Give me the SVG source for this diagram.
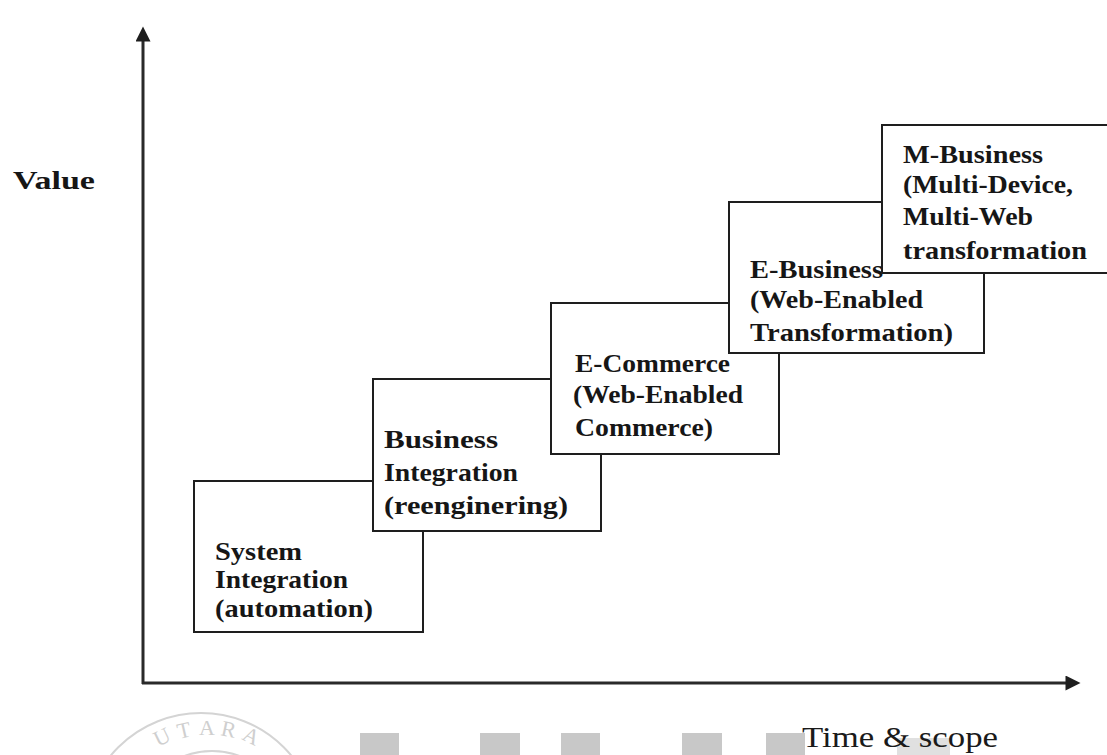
<svg xmlns="http://www.w3.org/2000/svg" width="1107" height="755" viewBox="0 0 1107 755">
  <style>
    .box { fill: #ffffff; stroke: #1e1e1e; stroke-width: 2; }
    .lbl { font-family: "Liberation Serif", "Times New Roman", serif; font-weight: bold; font-size: 25px; fill: #161616; }
    .axis { stroke: #2a2a2a; stroke-width: 3; fill: none; }
    .mark { fill: #c8c8c8; }
    .seal { fill: none; stroke: #d4d4d4; stroke-width: 2; }
  </style>
  <defs>
    <marker id="head" viewBox="0 0 10 10" refX="1" refY="5" markerWidth="6" markerHeight="5" markerUnits="strokeWidth" orient="auto">
      <path d="M0,0 L10,5 L0,10 Z" fill="#1e1e1e"/>
    </marker>
  </defs>

  <rect width="1107" height="755" fill="#ffffff"/>

  <!-- faint seal and bar watermark along the bottom -->
  <g id="watermark">
    <circle class="seal" cx="201" cy="830" r="117"/>
    <circle class="seal" cx="212" cy="830" r="79"/>
    <text font-family="Liberation Serif, serif" font-size="22" fill="#cfcfcf"
          x="158 179 199 220 241" y="747 739 735 735 739" rotate="-26 -13 0 12 26">UTARA</text>
    <rect class="mark" x="360" y="733" width="39" height="22"/>
    <rect class="mark" x="480" y="733" width="40" height="22"/>
    <rect class="mark" x="561" y="733" width="39" height="22"/>
    <rect class="mark" x="682" y="733" width="40" height="22"/>
    <rect class="mark" x="766" y="733" width="39" height="22"/>
    <rect x="897" y="738" width="53" height="17" fill="#e0e0e0"/>
  </g>

  <!-- axes -->
  <g id="connectors">
    <line class="axis" x1="143" y1="684" x2="143" y2="40" marker-end="url(#head)"/>
    <line class="axis" x1="142" y1="683" x2="1067" y2="683" marker-end="url(#head)"/>
  </g>

  <text class="lbl" x="13" y="189" textLength="82" lengthAdjust="spacingAndGlyphs">Value</text>
  <text x="802" y="747" font-family="Liberation Serif, serif" font-size="29" fill="#1a1a1a" textLength="196" lengthAdjust="spacingAndGlyphs">Time &amp; scope</text>

  <!-- stages, later ones drawn over earlier ones -->
  <g id="system-integration">
    <rect class="box" x="194" y="481" width="229" height="151"/>
    <text class="lbl" x="215" y="560" textLength="87" lengthAdjust="spacingAndGlyphs">System</text>
    <text class="lbl" x="215" y="588" textLength="133" lengthAdjust="spacingAndGlyphs">Integration</text>
    <text class="lbl" x="215" y="617" textLength="158" lengthAdjust="spacingAndGlyphs">(automation)</text>
  </g>

  <g id="business-integration">
    <rect class="box" x="373" y="379" width="228" height="152"/>
    <text class="lbl" x="384" y="448" textLength="114" lengthAdjust="spacingAndGlyphs">Business</text>
    <text class="lbl" x="384" y="481" textLength="134" lengthAdjust="spacingAndGlyphs">Integration</text>
    <text class="lbl" x="384" y="514" textLength="184" lengthAdjust="spacingAndGlyphs">(reenginering)</text>
  </g>

  <g id="e-commerce">
    <rect class="box" x="551" y="303" width="228" height="151"/>
    <text class="lbl" x="575" y="372" textLength="155" lengthAdjust="spacingAndGlyphs">E-Commerce</text>
    <text class="lbl" x="573" y="403" textLength="170" lengthAdjust="spacingAndGlyphs">(Web-Enabled</text>
    <text class="lbl" x="575" y="436" textLength="138" lengthAdjust="spacingAndGlyphs">Commerce)</text>
  </g>

  <g id="e-business">
    <rect class="box" x="729" y="202" width="255" height="151"/>
    <text class="lbl" x="750" y="278" textLength="133" lengthAdjust="spacingAndGlyphs">E-Business</text>
    <text class="lbl" x="750" y="308" textLength="173" lengthAdjust="spacingAndGlyphs">(Web-Enabled</text>
    <text class="lbl" x="750" y="341" textLength="203" lengthAdjust="spacingAndGlyphs">Transformation)</text>
  </g>

  <g id="m-business">
    <rect class="box" x="882" y="125" width="230" height="148"/>
    <text class="lbl" x="903" y="163" textLength="140" lengthAdjust="spacingAndGlyphs">M-Business</text>
    <text class="lbl" x="903" y="193" textLength="170" lengthAdjust="spacingAndGlyphs">(Multi-Device,</text>
    <text class="lbl" x="903" y="225" textLength="130" lengthAdjust="spacingAndGlyphs">Multi-Web</text>
    <text class="lbl" x="903" y="259" textLength="184" lengthAdjust="spacingAndGlyphs">transformation</text>
  </g>
</svg>
